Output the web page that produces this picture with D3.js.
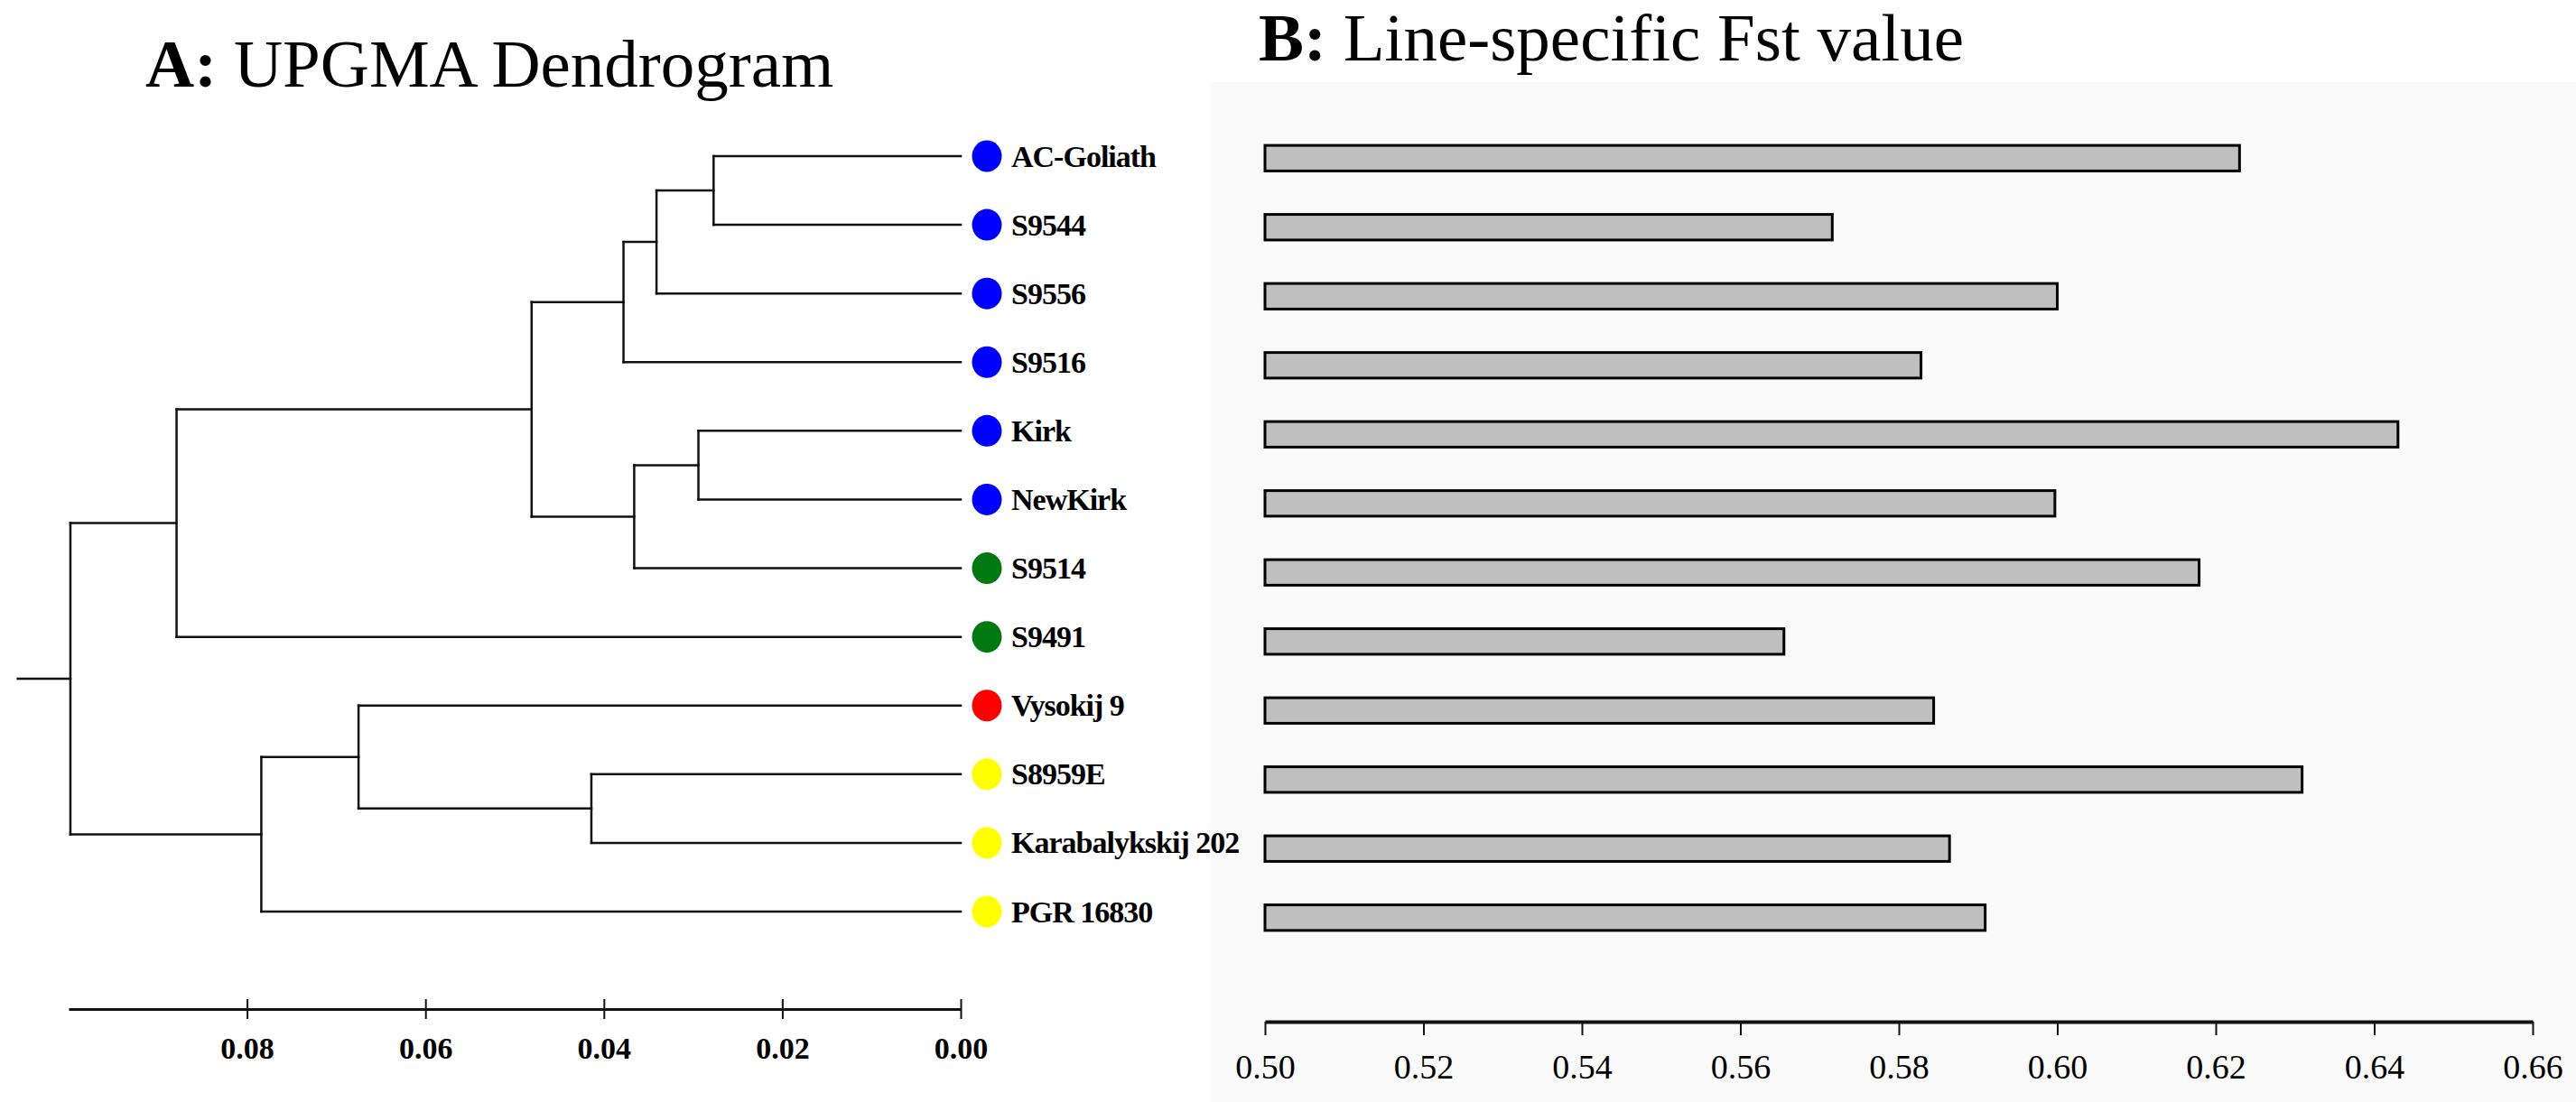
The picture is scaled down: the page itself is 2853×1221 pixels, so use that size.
<!DOCTYPE html>
<html>
<head>
<meta charset="utf-8">
<script src="https://cdn.jsdelivr.net/npm/d3@7/dist/d3.min.js"></script>
<style>
  html, body { margin: 0; padding: 0; background: #fff; }
  svg { display: block; }
</style>
</head>
<body>
<svg id="chart"></svg>
<script>
// lines, top to bottom
const lines = ["AC-Goliath", "S9544", "S9556", "S9516", "Kirk", "NewKirk", "S9514",
  "S9491", "Vysokij 9", "S8959E", "Karabalykskij 202", "PGR 16830"];
const lineColors = ["#0000ff", "#0000ff", "#0000ff", "#0000ff", "#0000ff", "#0000ff",
  "#007a10", "#007a10", "#ff0000", "#ffff00", "#ffff00", "#ffff00"];
// UPGMA merges: [childA, childB, height]; ids >= 12 refer to earlier merges (12 + row)
const merges = [
  [0, 1, 0.0277],
  [12, 2, 0.0341],
  [13, 3, 0.0378],
  [4, 5, 0.0294],
  [15, 6, 0.0366],
  [14, 16, 0.0481],
  [17, 7, 0.0879],
  [9, 10, 0.0414],
  [8, 19, 0.0675],
  [20, 11, 0.0784],
  [18, 21, 0.0998]
];
const distTicks = [0.08, 0.06, 0.04, 0.02, 0.00];
// line-specific Fst
const fst = [0.623, 0.5716, 0.600, 0.5828, 0.643, 0.5997, 0.6179,
  0.5655, 0.5844, 0.6309, 0.5864, 0.5909];
const fstTicks = [0.50, 0.52, 0.54, 0.56, 0.58, 0.60, 0.62, 0.64, 0.66];

const W = 2853, H = 1221;
const serif = "'Liberation Serif', 'Times New Roman', serif";

const svg = d3.select("#chart")
  .attr("width", W)
  .attr("height", H)
  .attr("viewBox", [0, 0, W, H]);

// panel B backdrop goes under everything (the long leaf label runs into it)
svg.append("rect")
  .attr("x", 1340).attr("y", 91).attr("width", W - 1340).attr("height", H - 91)
  .attr("fill", "#fafafa");

// ---- Panel A: dendrogram ----
const xA = d3.scaleLinear().domain([0.1, 0]).range([76, 1064]);
const yA = d3.scalePoint().domain(d3.range(lines.length)).range([173, 1010]);

svg.append("text")
  .attr("x", 161).attr("y", 96)
  .style("font-family", serif).style("font-size", "75px")
  .call(t => {
    t.append("tspan").style("font-weight", "bold").text("A:");
    t.append("tspan").text(" UPGMA Dendrogram");
  });

const nodes = lines.map((name, i) => ({ x: xA(0), y: yA(i) }));
const segs = [];
merges.forEach(([a, b, h]) => {
  const na = nodes[a], nb = nodes[b];
  const nx = xA(h);
  segs.push([na.x, na.y, nx, na.y], [nb.x, nb.y, nx, nb.y], [nx, na.y, nx, nb.y]);
  nodes.push({ x: nx, y: (na.y + nb.y) / 2 });
});
const root = nodes[nodes.length - 1];
segs.push([root.x, root.y, xA(merges[merges.length - 1][2] + 0.0059), root.y]);

const gA = svg.append("g");
gA.selectAll("line.branch")
  .data(segs)
  .join("line")
  .attr("class", "branch")
  .attr("x1", d => d[0]).attr("y1", d => d[1])
  .attr("x2", d => d[2]).attr("y2", d => d[3])
  .attr("stroke", "#111")
  .attr("stroke-width", 2.5)
  .attr("stroke-linecap", "square");

gA.selectAll("ellipse")
  .data(lines)
  .join("ellipse")
  .attr("cx", xA(0) + 29)
  .attr("cy", (d, i) => yA(i))
  .attr("rx", 16.5).attr("ry", 17.5)
  .attr("fill", (d, i) => lineColors[i]);

gA.selectAll("text.leaf")
  .data(lines)
  .join("text")
  .attr("class", "leaf")
  .attr("x", xA(0) + 56)
  .attr("y", (d, i) => yA(i))
  .attr("dy", "0.34em")
  .style("font-family", serif).style("font-weight", "bold").style("font-size", "34px")
  .style("letter-spacing", "-1px")
  .text(d => d);

const axA = svg.append("g")
  .attr("transform", "translate(0,1118)")
  .call(d3.axisBottom(xA).tickValues(distTicks).tickFormat(d3.format(".2f")).tickSize(11).tickSizeOuter(0));
axA.select(".domain").attr("stroke", "#111").attr("stroke-width", 3);
axA.selectAll(".tick line").attr("y1", -11).attr("y2", 11).attr("stroke", "#111").attr("stroke-width", 2);
axA.selectAll(".tick text")
  .attr("y", 31).attr("dy", "0.71em")
  .style("font-family", serif).style("font-weight", "bold").style("font-size", "34px")
  .attr("fill", "#000");

// ---- Panel B: Fst bars ----
svg.append("text")
  .attr("x", 1394).attr("y", 67)
  .style("font-family", serif).style("font-size", "75px")
  .call(t => {
    t.append("tspan").style("font-weight", "bold").text("B:");
    t.append("tspan").text(" Line-specific Fst value");
  });

const xB = d3.scaleLinear().domain([0.50, 0.66]).range([1401, 2805]);
const yB = d3.scaleBand().domain(d3.range(lines.length)).range([137, 1055]).paddingInner(0.63).paddingOuter(0.315);

svg.append("g")
  .selectAll("rect")
  .data(fst)
  .join("rect")
  .attr("x", xB(0.50))
  .attr("y", (d, i) => yB(i))
  .attr("width", d => xB(d) - xB(0.50))
  .attr("height", yB.bandwidth())
  .attr("fill", "#bfbfbf")
  .attr("stroke", "#000")
  .attr("stroke-width", 3);

const axB = svg.append("g")
  .attr("transform", "translate(0,1132)")
  .call(d3.axisBottom(xB).tickValues(fstTicks).tickFormat(d3.format(".2f")).tickSize(15).tickSizeOuter(0));
axB.select(".domain").attr("stroke", "#111").attr("stroke-width", 4);
axB.selectAll(".tick line").attr("stroke", "#111").attr("stroke-width", 2);
axB.selectAll(".tick text")
  .attr("y", 50).attr("dy", "0.35em")
  .style("font-family", serif).style("font-size", "38px")
  .attr("fill", "#000");
</script>
</body>
</html>
